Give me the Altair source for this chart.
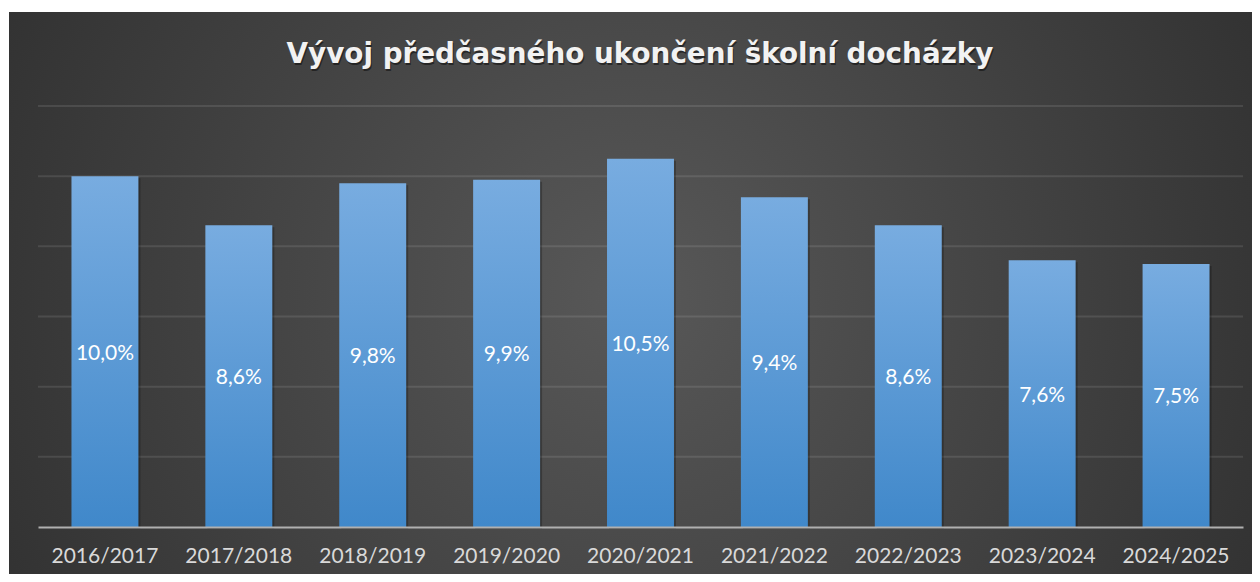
import altair as alt
import pandas as pd

title_text = "Vývoj předčasného ukončení školní docházky"
years = ["2016/2017", "2017/2018", "2018/2019", "2019/2020", "2020/2021",
         "2021/2022", "2022/2023", "2023/2024", "2024/2025"]
values = [10.0, 8.6, 9.8, 9.9, 10.5, 9.4, 8.6, 7.6, 7.5]
labels = [f"{v:.1f}%".replace(".", ",") for v in values]
grid_values = [2, 4, 6, 8, 10, 12]

df = pd.DataFrame({"year": years, "value": values, "label": labels})
grid_df = pd.DataFrame({"g": grid_values})
one_df = pd.DataFrame({"a": [0]})

W, H = 1205, 421
FONT = "Lato"

x_enc = alt.X("year:N", sort=years,
              scale=alt.Scale(paddingInner=0.5, paddingOuter=0.25),
              axis=alt.Axis(title=None, labelAngle=0, ticks=False, labelPadding=18,
                            labelFontSize=21, labelColor="#d9d9d9", labelFont=FONT,
                            domainColor="#b0b0b0", domainWidth=2, zindex=1, grid=False))
y_scale = alt.Scale(domain=[0, 12], nice=False)

background = alt.Chart(one_df).mark_rect(
    fill=alt.RadialGradient(
        gradient="radial", x1=0.5, y1=0.5, r1=0, x2=0.5, y2=0.5, r2=0.75,
        stops=[alt.GradientStop(offset=0, color="#585858"),
               alt.GradientStop(offset=1, color="#252525")]),
).encode(x=alt.value(-29), x2=alt.value(1214), y=alt.value(-94), y2=alt.value(468))

title_shadow = alt.Chart(one_df).mark_text(
    text=title_text, font="DejaVu Sans", fontWeight="bold", fontSize=27.8,
    color="#000000", opacity=0.45, baseline="alphabetic", align="center", dx=1, dy=2
).encode(x=alt.value(602), y=alt.value(-43))

title = alt.Chart(one_df).mark_text(
    text=title_text, font="DejaVu Sans", fontWeight="bold", fontSize=27.8,
    color="#f2f2f2", baseline="alphabetic", align="center"
).encode(x=alt.value(602), y=alt.value(-43))

grid = alt.Chart(grid_df).mark_rule(color="#ffffff", strokeOpacity=0.1, strokeWidth=2).encode(
    y=alt.Y("g:Q", scale=y_scale, axis=None)
)

shadow = alt.Chart(df).mark_bar(color="#000000", opacity=0.25, xOffset=2, yOffset=2).encode(
    x=x_enc, y=alt.Y("value:Q", scale=y_scale, axis=None)
)

bars = alt.Chart(df).mark_bar(
    fill=alt.LinearGradient(
        gradient="linear", x1=0, y1=0, x2=0, y2=1,
        stops=[alt.GradientStop(offset=0, color="#78ace0"),
               alt.GradientStop(offset=1, color="#4088ca")]),
).encode(x=x_enc, y=alt.Y("value:Q", scale=y_scale, axis=None))

text = alt.Chart(df).transform_calculate(mid="datum.value / 2").mark_text(
    color="#ffffff", fontSize=21, font=FONT, baseline="middle", dy=2
).encode(x=alt.X("year:N", sort=years), y=alt.Y("mid:Q", scale=y_scale, axis=None),
         text="label:N")

chart = alt.layer(background, title_shadow, title, grid, shadow, bars, text).properties(
    width=W, height=H,
    autosize=alt.AutoSizeParams(type="none"),
    padding={"left": 30, "top": 98, "right": 9, "bottom": 47},
).configure_view(stroke=None).configure(background="#ffffff")

chart.save("out.html", embed_options={"renderer": "svg", "actions": False})
